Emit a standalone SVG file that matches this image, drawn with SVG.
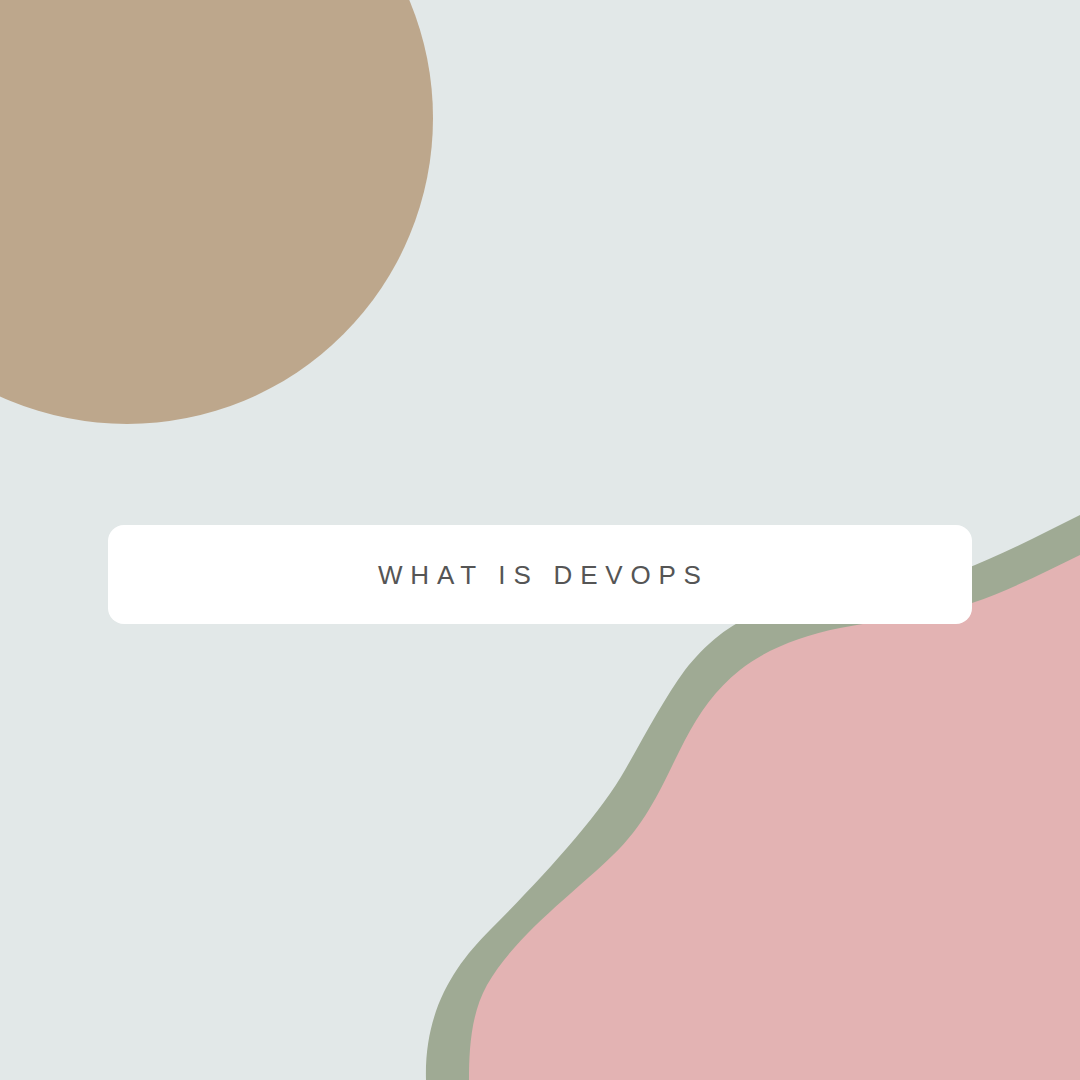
<svg xmlns="http://www.w3.org/2000/svg" width="1080" height="1080" viewBox="0 0 1080 1080">
<style>
.bg{fill:#E2E8E8}
.brown{fill:#BDA78C}
.green{fill:#9FAA94}
.pink{fill:#E3B3B3}
.card{fill:#FFFFFF}
.title{font-family:"Liberation Sans","Noto Sans",sans-serif;font-size:26px;fill:#555555;letter-spacing:7.8px}
</style>
<rect class="bg" x="0" y="0" width="1080" height="1080"/>
<circle id="circle" class="brown" cx="127" cy="118" r="306"/>
<path id="green-band" class="green" d="M 1080 515 C 1040 535, 1000 556, 960 571 C 900 592, 820 600, 760 614 C 730 622, 705 645, 685 670 C 665 697, 645 735, 625 770 C 600 815, 540 880, 490 930 C 455 965, 424 1010, 426 1080 L 1080 1080 Z"/>
<path id="pink-blob" class="pink" d="M 1080 555 C 1045 572, 1010 590, 972 603 C 930 616, 880 620, 840 628 C 800 636, 765 650, 740 670 C 715 690, 700 712, 685 740 C 665 778, 650 820, 613 855 C 580 888, 515 935, 487 985 C 470.8 1014, 469 1050, 469 1080 L 1080 1080 Z"/>
<g id="title-card">
<rect class="card" x="108" y="525" width="864" height="99" rx="16"/>
<text class="title" x="378" y="584">WHAT IS DEVOPS</text>
</g>
</svg>
